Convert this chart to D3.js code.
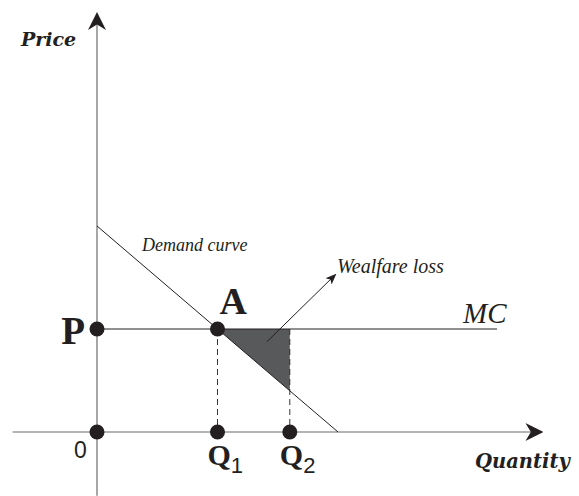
<!DOCTYPE html>
<html>
<head>
<meta charset="utf-8">
<script src="https://cdn.jsdelivr.net/npm/d3@7"></script>
<style>
  body { margin: 0; background: #fff; }
  svg { display: block; }
</style>
</head>
<body>
<div id="chart"></div>
<script>
// Demand: price = 10 - quantity, MC flat at price 5
const demandPoints = [[0, 10], [10, 0]];
const mcPrice = 5;
const mcEnd = 16.6;
const q1 = 5;
const q2 = 8;
const pointLabels = ["0", "P", "A"];
const qLabels = ["Q1", "Q2"];

const width = 579, height = 496;

const x = d3.scaleLinear().domain([0, 10]).range([97, 338]);
const y = d3.scaleLinear().domain([0, 10]).range([432, 226]);

const svg = d3.select("#chart").append("svg")
    .attr("width", width)
    .attr("height", height);

const defs = svg.append("defs");
defs.append("marker")
    .attr("id", "axisArrow")
    .attr("viewBox", "0 0 10 10")
    .attr("refX", 9).attr("refY", 5)
    .attr("markerWidth", 18).attr("markerHeight", 18)
    .attr("markerUnits", "userSpaceOnUse")
    .attr("orient", "auto")
    .append("path")
    .attr("d", "M0,0 L10,5 L0,10 L3,5 Z")
    .attr("fill", "#231f20");

defs.append("marker")
    .attr("id", "smallArrow")
    .attr("viewBox", "0 0 10 10")
    .attr("refX", 9).attr("refY", 5)
    .attr("markerWidth", 11).attr("markerHeight", 11)
    .attr("markerUnits", "userSpaceOnUse")
    .attr("orient", "auto")
    .append("path")
    .attr("d", "M0,1 L10,5 L0,9 L2.5,5 Z")
    .attr("fill", "#231f20");

const axisColor = "#6d6b6c";
const ink = "#231f20";

// Axes
svg.append("line")
    .attr("x1", x(0)).attr("y1", y(-3.1))
    .attr("x2", x(0)).attr("y2", y(20.3))
    .attr("stroke", axisColor).attr("stroke-width", 1.2)
    .attr("marker-end", "url(#axisArrow)");

svg.append("line")
    .attr("x1", x(-3.5)).attr("y1", y(0))
    .attr("x2", x(18.45)).attr("y2", y(0))
    .attr("stroke", axisColor).attr("stroke-width", 1.2)
    .attr("marker-end", "url(#axisArrow)");

// Welfare loss triangle
const tri = [[q1, mcPrice], [q2, mcPrice], [q2, 10 - q2]];
svg.append("path")
    .attr("d", d3.line().x(d => x(d[0])).y(d => y(d[1]))(tri) + "Z")
    .attr("fill", "#58595b");

// Dashed guides
[q1, q2].forEach(q => {
    svg.append("line")
        .attr("x1", x(q)).attr("y1", y(mcPrice))
        .attr("x2", x(q)).attr("y2", y(0))
        .attr("stroke", ink).attr("stroke-width", 0.9)
        .attr("stroke-dasharray", "6,4");
});

// MC line
svg.append("line")
    .attr("x1", x(0)).attr("y1", y(mcPrice))
    .attr("x2", x(mcEnd)).attr("y2", y(mcPrice))
    .attr("stroke", ink).attr("stroke-width", 1);

// Demand curve
svg.append("path")
    .attr("d", d3.line().x(d => x(d[0])).y(d => y(d[1]))(demandPoints))
    .attr("stroke", ink).attr("stroke-width", 1).attr("fill", "none");

// Welfare loss arrow
svg.append("line")
    .attr("x1", x(7.05)).attr("y1", y(4.38))
    .attr("x2", x(9.9)).attr("y2", y(7.65))
    .attr("stroke", ink).attr("stroke-width", 1)
    .attr("marker-end", "url(#smallArrow)");

// Dots
const dots = [[0, 0], [0, mcPrice], [q1, mcPrice], [q1, 0], [q2, 0]];
svg.selectAll(".dot")
    .data(dots)
    .join("circle")
    .attr("class", "dot")
    .attr("cx", d => x(d[0]))
    .attr("cy", d => y(d[1]))
    .attr("r", 7.5)
    .attr("fill", ink);

const serif = "Liberation Serif, serif";
const wideSerif = "DejaVu Serif, serif";
const sans = "Liberation Sans, Arial, sans-serif";

// Axis titles
svg.append("text")
    .attr("x", 21).attr("y", 46)
    .attr("font-family", wideSerif).attr("font-style", "italic").attr("font-weight", "bold")
    .attr("font-size", 19).attr("fill", ink)
    .text("Price");

svg.append("text")
    .attr("x", 475).attr("y", 468)
    .attr("font-family", wideSerif).attr("font-style", "italic").attr("font-weight", "bold")
    .attr("font-size", 19.5).attr("fill", ink)
    .text("Quantity");

// Annotations
svg.append("text")
    .attr("x", 142).attr("y", 251)
    .attr("font-family", serif).attr("font-style", "italic")
    .attr("font-size", 18).attr("fill", ink)
    .text("Demand curve");

svg.append("text")
    .attr("x", 337).attr("y", 273)
    .attr("font-family", serif).attr("font-style", "italic")
    .attr("font-size", 20).attr("fill", ink)
    .text("Wealfare loss");

svg.append("text")
    .attr("x", 463).attr("y", 323)
    .attr("font-family", serif).attr("font-style", "italic")
    .attr("font-size", 29).attr("fill", ink)
    .text("MC");

// Point labels
svg.append("text")
    .attr("x", x(0) - 23).attr("y", y(0) + 26)
    .attr("font-family", sans).attr("font-size", 23).attr("fill", ink)
    .text(pointLabels[0]);

svg.append("text")
    .attr("x", x(0) - 12).attr("y", y(mcPrice) + 15)
    .attr("text-anchor", "end")
    .attr("font-family", serif).attr("font-weight", "bold")
    .attr("font-size", 39).attr("fill", ink)
    .text(pointLabels[1]);

svg.append("text")
    .attr("x", x(q1) + 2).attr("y", y(mcPrice) - 15)
    .attr("font-family", serif).attr("font-weight", "bold")
    .attr("font-size", 38).attr("fill", ink)
    .text(pointLabels[2]);

qLabels.forEach((lab, i) => {
    const q = i === 0 ? q1 : q2;
    const t = svg.append("text")
        .attr("x", x(q) - 10).attr("y", y(0) + 33)
        .attr("font-family", serif).attr("font-weight", "bold")
        .attr("font-size", 30).attr("fill", ink);
    t.append("tspan").text(lab[0]);
    t.append("tspan")
        .attr("dy", 8)
        .attr("font-family", sans).attr("font-weight", "normal")
        .attr("font-size", 22)
        .text(lab.slice(1));
});
</script>
</body>
</html>
